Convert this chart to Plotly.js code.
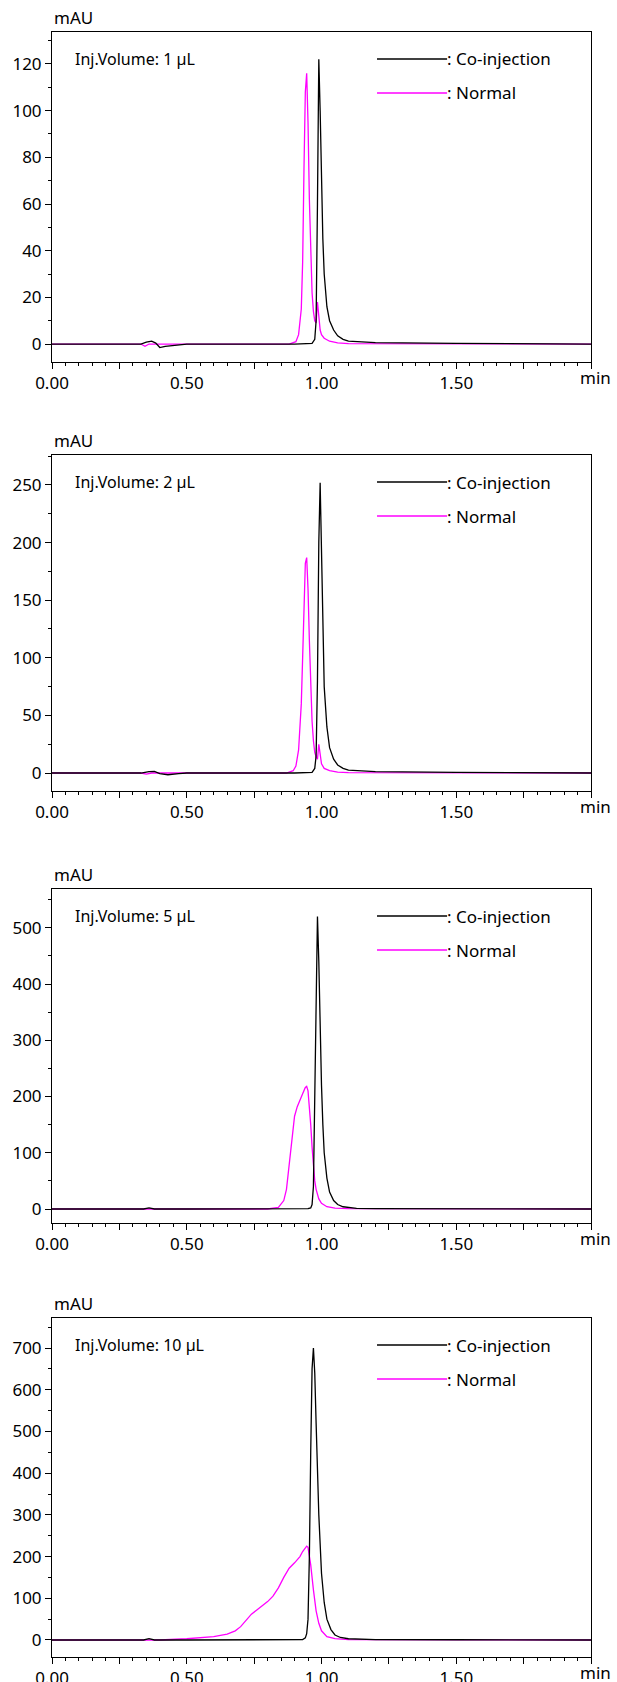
<!DOCTYPE html>
<html><head><meta charset="utf-8">
<script src="https://cdn.plot.ly/plotly-3.0.1.min.js"></script>
<style>body{margin:0;background:#fff}</style>
</head><body><div id="c" style="width:617px;height:1682px"></div>
<script>
// ---- data ----
const volumes = ["1 µL", "2 µL", "5 µL", "10 µL"];
const seriesNames = ["Co-injection", "Normal"];

const p1CoX = [0,0.33,0.35,0.37,0.385,0.40,0.42,0.46,0.5,0.9,0.965,0.975,0.98,0.985,0.99,0.995,1.0,1.005,1.01,1.02,1.03,1.045,1.06,1.08,1.1,1.2,1.5,2.0];
const p1CoY = [0,0,0.8,1.2,0.4,-1.5,-1.0,-0.4,0,0,0.3,2,10,60,122,100,70,45,30,16,10,6,3.5,2,1.2,0.6,0.3,0];
const p1NoX = [0,0.33,0.345,0.36,0.5,0.88,0.905,0.915,0.925,0.93,0.935,0.94,0.945,0.95,0.955,0.96,0.965,0.97,0.975,0.98,0.985,0.99,0.995,1.0,1.01,1.03,1.06,1.1,2.0];
const p1NoY = [0,0,-1,0,0,0,1,4,15,35,75,108,116,95,62,38,22,14,10,9,18,12,6,4,2.5,1.2,0.5,0.2,0];

const p2CoX = [0,0.33,0.36,0.38,0.40,0.43,0.47,0.5,0.9,0.965,0.975,0.98,0.985,0.99,0.995,1.0,1.005,1.01,1.02,1.03,1.045,1.06,1.08,1.1,1.2,1.5,2.0];
const p2CoY = [0,0,1.2,1.5,-0.5,-1.5,-0.5,0,0,0.5,4,15,80,200,252,190,120,75,40,22,12,7,4,2.5,1.2,0.5,0];
const p2NoX = [0,0.33,0.35,0.37,0.5,0.87,0.895,0.905,0.915,0.925,0.93,0.935,0.94,0.945,0.95,0.955,0.96,0.965,0.97,0.975,0.98,0.985,0.99,0.995,1.0,1.01,1.03,1.06,1.1,2.0];
const p2NoY = [0,0,-1,0,0,0,2,6,20,60,100,150,182,187,160,115,75,45,28,18,14,12,25,15,8,4,2,0.8,0.3,0];

const p3CoX = [0,0.34,0.36,0.38,0.5,0.9,0.95,0.96,0.965,0.97,0.975,0.98,0.985,0.99,0.995,1.0,1.005,1.01,1.02,1.03,1.045,1.06,1.08,1.1,1.13,1.2,1.5,2.0];
const p3CoY = [0,0,2,0,0,0,0.5,2,8,40,200,420,520,440,320,220,150,100,55,30,15,8,4,2.5,1.2,0.6,0.3,0];
const p3NoX = [0,0.5,0.8,0.84,0.86,0.87,0.88,0.89,0.9,0.91,0.92,0.93,0.94,0.945,0.95,0.955,0.96,0.965,0.97,0.975,0.98,0.985,0.99,1.0,1.02,1.05,1.1,2.0];
const p3NoY = [0,0,0,3,15,35,80,130,165,182,192,205,216,218,210,185,150,110,75,50,35,25,18,10,4,1.5,0.5,0];

const p4CoX = [0,0.34,0.36,0.38,0.5,0.9,0.93,0.94,0.945,0.95,0.955,0.96,0.965,0.97,0.975,0.98,0.985,0.99,1.0,1.01,1.02,1.035,1.05,1.07,1.1,1.2,1.5,2.0];
const p4CoY = [0,0,3,0,0,0,1,5,15,50,200,450,650,700,640,520,400,300,160,90,50,25,12,6,3,1,0.5,0];
const p4NoX = [0,0.4,0.5,0.55,0.6,0.65,0.68,0.7,0.72,0.74,0.76,0.78,0.8,0.82,0.84,0.86,0.87,0.88,0.9,0.92,0.93,0.94,0.945,0.95,0.955,0.96,0.97,0.98,0.99,1.0,1.02,1.05,1.1,2.0];
const p4NoY = [0,0,3,5,8,14,22,32,48,62,72,82,92,105,125,150,162,172,185,200,212,222,225,222,205,180,120,70,40,22,8,3,1,0];

const yRanges = [[-7.7,133.7],[-15.6,276],[-24.9,569],[-40.8,772]];
const yDticks = [20,50,100,100];
const yMinors = [10,25,50,50];
const xTickVals = [0,0.25,0.5,0.75,1,1.25,1.5,1.75,2];
const xTickText = ["0.00","","0.50","","1.00","","1.50","",""];

// ---- layout ----
const panels = [
  {cx:p1CoX,cy:p1CoY,nx:p1NoX,ny:p1NoY},
  {cx:p2CoX,cy:p2CoY,nx:p2NoX,ny:p2NoY},
  {cx:p3CoX,cy:p3CoY,nx:p3NoX,ny:p3NoY},
  {cx:p4CoX,cy:p4CoY,nx:p4NoX,ny:p4NoY}
];
const H = 1682;
const tops = [32,455,889,1318], bottoms = [362,791,1223,1657];
const FONT = "Noto Sans, sans-serif";
const data = [], ann = [], shapes = [];
const layout = {width:617,height:H,margin:{l:52,r:26,t:0,b:0},showlegend:false,
  paper_bgcolor:"#fff",plot_bgcolor:"#fff",font:{family:FONT,size:16,color:"#000"}};
panels.forEach((p,i)=>{
  const n = i+1, xs = n===1?"":n, xa="x"+xs, ya="y"+xs;
  data.push({x:p.nx,y:p.ny,xaxis:xa,yaxis:ya,mode:"lines",line:{color:"#ff00ff",width:1.3},hoverinfo:"skip"});
  data.push({x:p.cx,y:p.cy,xaxis:xa,yaxis:ya,mode:"lines",line:{color:"#000",width:1.3},hoverinfo:"skip"});
  const dom = [(H-bottoms[i])/H,(H-tops[i])/H];
  const h = bottoms[i]-tops[i];
  layout["xaxis"+xs] = {domain:[0,1],range:[0,2],anchor:ya,showline:true,linecolor:"#000",linewidth:1,mirror:true,
    ticks:"outside",ticklen:6,tickcolor:"#000",tickvals:xTickVals,ticktext:xTickText,showgrid:false,zeroline:false,
    tickfont:{size:17},minor:{dtick:0.05,ticks:"outside",ticklen:3,tickcolor:"#000"}};
  layout["yaxis"+xs] = {domain:dom,range:yRanges[i],anchor:xa,showline:true,linecolor:"#000",linewidth:1,mirror:true,
    ticks:"outside",ticklen:6,tickcolor:"#000",dtick:yDticks[i],tick0:0,showgrid:false,zeroline:false,
    tickfont:{size:17},minor:{dtick:yMinors[i],ticks:"outside",ticklen:3,tickcolor:"#000"}};
  const yd = ya+" domain";
  ann.push({xref:xa,yref:yd,x:0,y:1,xanchor:"left",yanchor:"bottom",text:"mAU",showarrow:false,font:{size:17},yshift:1});
  ann.push({xref:xa,yref:yd,x:1.952,y:-15/h,xanchor:"left",yanchor:"middle",text:"min",showarrow:false,font:{size:17}});
  ann.push({xref:xa,yref:yd,x:0.078,y:1-27/h,xanchor:"left",yanchor:"middle",text:"Inj.Volume: "+volumes[i],showarrow:false,font:{size:16}});
  [[seriesNames[0],"#000",27],[seriesNames[1],"#ff00ff",61]].forEach(([nm,col,off])=>{
    shapes.push({type:"line",xref:xa,yref:yd,x0:1.206,x1:1.466,y0:1-off/h,y1:1-off/h,line:{color:col,width:1.3}});
    ann.push({xref:xa,yref:yd,x:1.466,y:1-off/h,xanchor:"left",yanchor:"middle",text:": "+nm,showarrow:false,font:{size:17},xshift:-2});
  });
});
layout.annotations = ann; layout.shapes = shapes;
Plotly.newPlot("c",data,layout,{staticPlot:true});
</script></body></html>
